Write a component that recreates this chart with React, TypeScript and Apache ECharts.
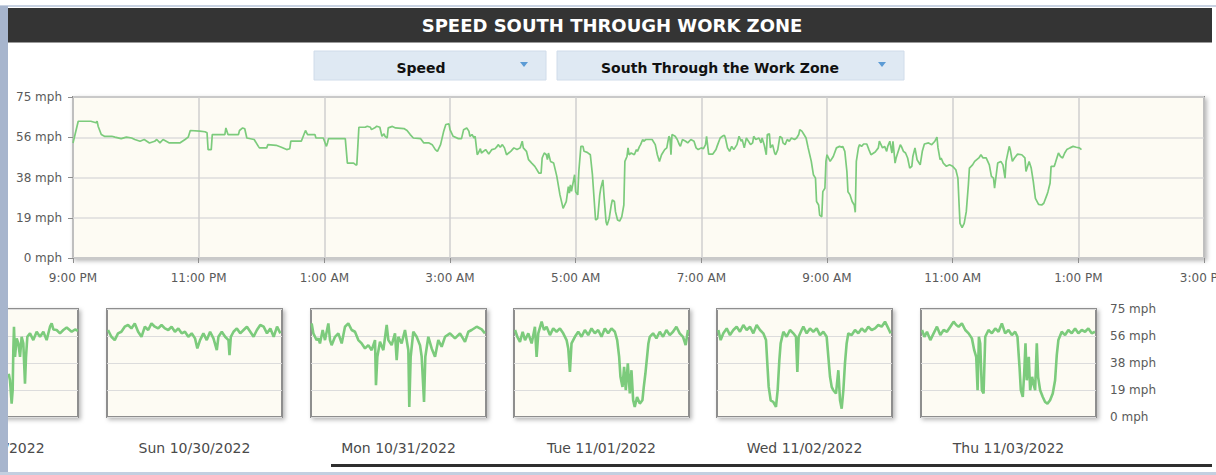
import React, { useEffect, useRef } from "react";
import * as echarts from "echarts";

// ---------- data ----------
const xTickLabels = ["9:00 PM", "11:00 PM", "1:00 AM", "3:00 AM", "5:00 AM", "7:00 AM", "9:00 AM", "11:00 AM", "1:00 PM", "3:00 PM"];
const dayLabels = ["Sat 10/29/2022", "Sun 10/30/2022", "Mon 10/31/2022", "Tue 11/01/2022", "Wed 11/02/2022", "Thu 11/03/2022"];
const titleText = "SPEED SOUTH THROUGH WORK ZONE";
const dropdownMetric = "Speed";
const dropdownDirection = "South Through the Work Zone";

// main series: [minutes after 9:00 PM, mph]
const mainSpeed: [number, number][] = [
  [0, 53.6], [5, 63.7], [17, 63.7], [22, 63.0], [23, 63.7], [24, 61.4], [27, 57.5], [30, 56.7], [37, 56.7], [40, 56.3],
  [46, 55.6], [51, 56.3], [56, 55.9], [59, 55.2], [64, 54.4], [68, 55.2], [73, 53.6], [78, 54.4], [80, 55.2], [83, 53.6],
  [86, 55.2], [89, 54.4], [92, 53.6], [102, 53.6], [107, 55.2], [110, 56.3], [112, 59.4], [121, 59.1], [126, 58.8], [128, 58.3],
  [129, 50.5], [132, 50.5], [133, 57.5], [145, 57.5], [146, 60.6], [148, 57.5], [158, 57.5], [159, 59.4], [162, 60.6], [164, 60.2],
  [166, 55.9], [173, 55.2], [177, 52.0], [178, 51.3], [185, 51.3], [186, 52.8], [194, 52.5], [199, 51.6], [204, 50.5], [207, 50.9],
  [208, 54.4], [218, 54.4], [222, 59.4], [224, 57.5], [231, 57.5], [232, 55.9], [239, 55.9], [242, 52.0], [243, 53.6], [244, 55.6],
  [260, 55.6], [262, 44.2], [268, 44.2], [270, 43.4], [271, 43.4], [273, 60.9], [279, 60.9], [281, 61.4], [284, 60.9], [285, 59.8],
  [289, 60.9], [290, 61.4], [293, 60.9], [295, 56.7], [297, 57.8], [298, 56.7], [300, 55.9], [301, 60.6], [305, 61.3], [308, 60.6],
  [316, 60.3], [319, 59.4], [322, 57.5], [325, 55.9], [332, 55.6], [335, 53.6], [340, 53.6], [343, 52.8], [346, 50.5], [348, 49.7],
  [351, 52.8], [354, 59.1], [356, 62.2], [359, 62.5], [360, 59.8], [363, 56.7], [368, 55.6], [371, 55.6], [373, 59.8], [376, 60.6],
  [378, 59.1], [379, 56.7], [381, 57.5], [383, 55.9], [384, 56.7], [386, 48.1], [387, 48.9], [389, 50.9], [390, 48.9], [394, 50.5],
  [397, 48.4], [400, 50.5], [403, 50.9], [405, 52.0], [406, 52.8], [408, 51.6], [410, 52.8], [412, 51.3], [414, 48.1], [418, 49.7],
  [421, 51.3], [424, 50.5], [427, 51.3], [429, 54.4], [430, 51.3], [433, 49.7], [435, 45.8], [438, 44.2], [441, 42.7], [445, 39.5],
  [447, 39.5], [448, 46.6], [450, 48.9], [452, 48.1], [453, 45.8], [454, 48.9], [456, 45.0], [459, 44.2], [462, 38.0], [465, 29.4],
  [468, 23.1], [471, 26.3], [473, 33.3], [474, 30.2], [475, 34.1], [476, 31.1], [479, 38.8],
  [480, 30.9], [482, 29.4], [483, 40.3], [485, 52.0], [487, 52.0], [488, 49.7], [491, 49.2], [494, 48.1], [496, 38.8], [498, 24.7],
  [499, 17.7], [501, 18.4], [503, 29.4], [504, 32.5], [506, 36.4], [507, 29.4], [509, 16.9], [510, 15.3], [512, 18.4], [514, 24.7],
  [515, 27.0], [517, 26.3], [518, 21.6], [520, 17.7], [522, 17.2], [524, 19.2], [526, 24.7], [527, 45.0], [529, 47.3], [530, 51.3],
  [531, 48.1], [533, 48.9], [536, 48.1], [538, 50.5], [539, 49.7], [541, 52.0], [542, 52.8], [544, 55.2], [545, 54.4], [547, 55.2],
  [553, 55.2], [556, 52.8], [558, 48.1], [560, 45.0], [562, 48.1], [565, 50.5], [567, 51.3], [569, 56.7], [570, 55.9], [571, 48.1],
  [572, 57.5], [575, 56.7], [577, 55.2], [579, 52.8], [580, 52.0], [582, 55.2], [585, 54.4], [587, 53.6], [590, 55.2], [593, 54.4],
  [595, 51.3], [597, 50.5], [600, 51.3], [602, 50.9], [604, 52.8], [605, 56.7], [607, 48.4], [611, 48.4], [614, 50.5], [615, 52.0],
  [618, 55.9], [620, 56.7], [622, 57.2], [623, 55.9], [625, 51.3], [627, 49.7], [629, 52.0], [631, 50.5], [634, 52.8], [636, 56.7],
  [638, 54.4], [639, 55.2], [641, 51.3], [643, 55.9], [645, 54.4], [647, 52.8], [649, 53.6], [650, 56.7], [652, 55.2], [655, 55.9],
  [657, 53.6], [658, 55.9], [660, 52.8], [662, 48.1], [663, 57.5], [665, 57.8], [666, 51.3], [668, 52.8], [670, 48.9], [671, 48.1],
  [673, 50.5], [675, 56.7], [677, 55.9], [678, 53.6], [680, 52.8], [682, 55.2], [684, 54.4], [686, 55.9], [689, 55.2], [691, 55.9],
  [693, 57.5], [694, 59.8], [696, 59.1], [698, 57.5], [700, 55.9], [702, 51.3], [705, 45.0], [707, 38.8], [709, 37.2], [710, 26.3],
  [712, 24.7], [713, 20.0], [715, 19.2], [716, 30.9], [718, 32.5], [719, 45.0], [720, 48.1],
  [723, 45.0], [726, 47.3], [729, 51.3], [732, 52.0], [734, 51.6], [735, 52.0], [737, 49.7], [739, 40.3], [740, 30.9], [742, 29.4],
  [744, 26.3], [746, 24.7], [747, 21.3], [748, 45.0], [750, 51.3], [751, 52.8], [753, 52.0], [755, 53.1], [758, 53.1], [760, 50.5],
  [762, 48.1], [766, 49.4], [769, 51.3], [770, 54.4], [773, 51.3], [775, 52.0], [777, 49.7], [778, 52.0], [780, 54.4], [782, 48.9],
  [783, 54.4], [785, 44.2], [786, 46.6], [790, 52.8], [791, 52.0], [793, 49.7], [795, 48.9], [797, 46.6], [799, 41.9], [801, 42.7],
  [802, 47.3], [804, 51.3], [806, 45.8], [809, 43.4], [811, 49.7], [813, 53.1], [817, 53.6], [820, 52.8], [823, 54.4], [825, 56.3],
  [826, 51.3], [828, 45.8], [829, 46.6], [831, 44.2], [834, 42.7], [837, 43.4], [840, 42.7], [843, 41.1], [845, 37.2], [846, 26.3],
  [847, 16.1], [849, 14.1], [851, 16.1], [853, 21.6], [855, 34.1], [856, 41.9], [859, 43.4], [861, 45.0], [863, 45.8], [865, 46.6],
  [867, 48.1], [869, 46.6], [872, 46.6], [875, 43.4], [877, 38.0], [879, 37.2], [880, 32.5], [882, 40.3], [883, 44.2], [886, 45.0],
  [888, 43.4], [890, 37.2], [891, 45.0], [894, 52.0], [895, 50.5], [897, 45.0], [899, 46.6], [902, 48.4], [906, 48.1], [909, 46.6],
  [910, 40.3], [913, 45.0], [915, 41.9], [917, 35.6], [919, 27.8], [922, 25.0], [925, 24.7], [927, 25.5], [930, 29.4], [931, 30.9],
  [933, 34.8], [934, 42.7], [937, 42.7], [938, 44.2], [941, 48.9], [943, 47.3], [945, 46.6], [947, 48.9], [949, 50.5], [952, 51.3],
  [955, 52.0], [958, 51.6], [961, 51.3], [963, 50.5],
];

// daily thumbnails: [hour of day, mph]
const satSpeed: [number, number][] = [
  [14.5, 30.0], [14.67, 25.5], [14.9, 9.3], [15.04, 18.6], [15.13, 46.4], [15.22, 62.7], [15.36, 41.8], [15.59, 54.6], [15.82, 51.1],
  [16.05, 41.8], [16.27, 55.7], [16.5, 51.1], [16.73, 23.2], [16.87, 41.8], [17.05, 55.7], [17.42, 58.1], [17.87, 53.4], [18.33, 59.2],
  [18.79, 55.7], [19.25, 59.2], [19.7, 53.4], [20.16, 62.7], [20.39, 65.0], [20.62, 60.8], [21.07, 60.4], [21.53, 58.1], [21.99, 60.4],
  [22.45, 62.2], [23.13, 59.2], [23.59, 60.8], [24.0, 59.9],
];
const sunSpeed: [number, number][] = [
  [0.14, 60.4], [0.6, 55.7], [1.06, 53.4], [1.51, 58.1], [1.97, 59.2], [2.43, 62.7], [2.89, 63.9], [3.35, 61.5], [3.81, 65.0], [4.27, 59.2],
  [4.73, 55.7], [5.19, 62.7], [5.65, 60.4], [6.1, 65.0], [6.56, 62.7], [7.02, 61.5], [7.48, 63.9], [7.94, 61.5], [8.4, 60.4], [8.86, 62.7],
  [9.32, 59.2], [9.78, 61.5], [10.24, 58.1], [10.69, 59.2], [11.15, 55.7], [11.61, 58.1], [12.07, 54.6], [12.39, 47.6], [12.76, 53.4],
  [13.22, 58.1], [13.68, 53.4], [14.14, 59.2], [14.6, 54.6], [15.06, 46.4], [15.28, 55.7], [15.74, 59.2], [16.2, 55.7], [16.66, 53.4],
  [16.8, 43.0], [16.98, 55.7], [17.35, 59.2], [17.81, 61.5], [18.27, 58.1], [18.73, 60.4], [19.19, 62.7], [19.65, 59.2], [20.1, 55.7],
  [20.56, 60.4], [21.02, 63.9], [21.48, 62.7], [21.94, 58.1], [22.4, 61.5], [22.86, 55.7], [23.32, 62.7], [23.78, 58.1],
];
const monSpeed: [number, number][] = [
  [0.09, 65.0], [0.32, 58.1], [0.55, 55.7], [0.78, 53.4], [1.01, 54.6], [1.23, 51.1], [1.6, 60.4], [1.92, 53.4], [2.38, 65.0], [2.61, 53.4],
  [2.83, 49.9], [3.29, 55.7], [3.75, 58.1], [4.21, 51.1], [4.66, 62.7], [5.12, 65.0], [5.58, 60.4], [6.03, 59.2], [6.49, 53.4], [6.95, 51.1],
  [7.41, 47.6], [7.86, 49.9], [8.32, 46.4], [8.78, 53.4], [8.91, 22.1], [9.1, 41.8], [9.46, 52.2], [9.92, 46.4], [10.38, 63.9], [10.61, 53.4],
  [11.06, 49.9], [11.52, 58.1], [11.75, 39.5], [11.98, 55.7], [12.43, 51.1], [12.89, 60.4], [13.35, 46.4], [13.48, 7.0], [13.67, 41.8],
  [14.03, 59.2], [14.49, 55.7], [14.95, 49.9], [15.18, 41.8], [15.5, 10.4], [15.68, 41.8], [16.09, 55.7], [16.55, 47.6], [17.01, 41.8],
  [17.46, 53.4], [17.92, 48.8], [18.38, 55.7], [19.06, 58.1], [19.75, 54.6], [20.43, 58.1], [21.12, 52.2], [21.58, 59.2], [22.03, 60.4],
  [22.72, 62.7], [23.41, 60.8], [23.86, 58.1],
];
const tueSpeed: [number, number][] = [
  [0.14, 60.4], [0.46, 55.7], [0.82, 52.2], [1.19, 59.2], [1.51, 53.4], [1.96, 58.1], [2.42, 51.1], [2.87, 62.7], [3.1, 41.8], [3.33, 58.1],
  [3.79, 66.2], [4.11, 60.4], [4.47, 62.7], [4.93, 56.9], [5.38, 61.5], [5.84, 59.2], [6.3, 61.5], [6.75, 58.1], [7.21, 53.4], [7.44, 47.6],
  [7.67, 31.3], [7.89, 51.1], [8.35, 55.7], [8.81, 59.2], [9.26, 55.7], [9.72, 60.4], [10.18, 56.9], [10.63, 61.5], [11.09, 58.1], [11.54, 60.4],
  [12.0, 55.7], [12.46, 61.5], [12.91, 58.1], [13.37, 61.5], [13.83, 59.2], [14.15, 53.4], [14.42, 41.8], [14.6, 27.9], [14.88, 20.9],
  [15.1, 34.8], [15.33, 18.6], [15.61, 37.2], [15.88, 16.3], [16.11, 32.5], [16.34, 11.6], [16.56, 7.0], [16.88, 13.9], [17.25, 9.3],
  [17.61, 11.6], [17.8, 20.9], [18.02, 30.2], [18.25, 41.8], [18.43, 51.1], [18.62, 55.7], [19.07, 58.1], [19.53, 54.6], [19.99, 59.2],
  [20.44, 55.7], [20.9, 60.4], [21.36, 56.9], [21.81, 59.2], [22.27, 62.7], [22.72, 58.1], [23.18, 55.7], [23.54, 49.9], [23.86, 60.4],
];
const wedSpeed: [number, number][] = [
  [0.18, 60.4], [0.5, 53.4], [0.87, 58.1], [1.33, 61.5], [1.78, 56.9], [2.24, 60.4], [2.7, 62.7], [3.15, 59.2], [3.61, 63.9], [4.07, 60.4],
  [4.53, 62.7], [4.98, 58.1], [5.44, 63.9], [5.9, 60.4], [6.35, 58.1], [6.72, 53.4], [6.9, 37.2], [7.09, 20.9], [7.36, 11.6], [7.73, 10.4],
  [8.09, 7.0], [8.32, 18.6], [8.55, 39.5], [8.73, 51.1], [9.1, 59.2], [9.55, 55.7], [10.01, 60.4], [10.47, 58.1], [10.83, 55.7], [11.02, 31.3],
  [11.2, 55.7], [11.61, 60.4], [11.84, 62.7], [12.3, 58.1], [12.75, 61.5], [13.21, 59.2], [13.67, 61.5], [14.13, 56.9], [14.58, 59.2],
  [15.04, 55.7], [15.27, 41.8], [15.5, 27.9], [15.73, 20.9], [15.95, 18.6], [16.32, 16.3], [16.64, 32.5], [16.87, 11.6], [17.1, 5.8],
  [17.33, 18.6], [17.55, 37.2], [17.78, 51.1], [18.01, 58.1], [18.47, 56.9], [18.93, 60.4], [19.38, 58.1], [19.84, 61.5], [20.3, 59.2],
  [20.75, 62.7], [21.21, 60.4], [21.67, 61.5], [22.12, 63.9], [22.58, 62.7], [23.04, 66.2], [23.5, 61.5], [23.82, 58.1],
];
const thuSpeed: [number, number][] = [
  [0.14, 60.4], [0.46, 55.7], [0.82, 59.2], [1.28, 53.4], [1.73, 58.1], [2.19, 62.7], [2.65, 56.9], [3.1, 60.4], [3.56, 59.2], [4.02, 62.7],
  [4.47, 66.2], [4.84, 63.9], [5.16, 62.7], [5.61, 65.0], [6.07, 60.4], [6.53, 58.1], [6.98, 54.6], [7.3, 46.4], [7.57, 41.8], [7.76, 18.6],
  [7.94, 55.7], [8.12, 51.1], [8.35, 18.6], [8.58, 16.3], [8.81, 55.7], [9.26, 60.4], [9.72, 58.1], [10.18, 61.5], [10.63, 59.2], [11.09, 65.0],
  [11.54, 58.1], [12.0, 60.4], [12.46, 56.9], [12.91, 59.2], [13.23, 55.7], [13.51, 34.8], [13.69, 18.6], [13.96, 13.9], [14.15, 30.2],
  [14.33, 51.1], [14.51, 25.5], [14.78, 41.8], [14.97, 18.6], [15.24, 27.9], [15.42, 23.2], [15.65, 18.6], [15.88, 51.1], [16.06, 27.9],
  [16.34, 18.6], [16.7, 13.9], [17.02, 10.4], [17.34, 9.3], [17.7, 11.6], [18.07, 16.3], [18.39, 25.5], [18.62, 43.0], [18.84, 53.4],
  [19.3, 59.2], [19.76, 56.9], [20.21, 60.4], [20.67, 58.1], [21.13, 61.5], [21.58, 58.1], [22.04, 60.4], [22.5, 59.2], [22.95, 61.5],
  [23.41, 58.1], [23.86, 59.2],
];
const dailySpeeds = [satSpeed, sunSpeed, monSpeed, tueSpeed, wedSpeed, thuSpeed];

// ---------- styles ----------
const FONT = "DejaVu Sans";
const LINE = "#7ccb7c";
const PLOT_BG = "#fdfbf3";
const BORDER = "#8e8e8e";
const SPLIT = "#dcdcdc";
const LABEL = "#5a5a5a";

const mphLabel = (v: number) => `${Math.round(v)} mph`;

export default function App() {
  const ref = useRef<HTMLDivElement>(null);

  useEffect(() => {
    if (!ref.current) return;
    const chart = echarts.init(ref.current, undefined, { renderer: "svg" });

    const panelLefts = [-97, 107, 311, 514, 717, 921];
    const shadow = { shadowColor: "rgba(0,0,0,0.28)", shadowBlur: 4, shadowOffsetX: 2, shadowOffsetY: 2 };

    const grids: any[] = [
      { left: 73, top: 97, width: 1131, height: 161, show: true, outerBoundsMode: "none", containLabel: false, backgroundColor: PLOT_BG, borderColor: BORDER, borderWidth: 2, ...shadow },
      ...panelLefts.map((l) => ({ left: l, top: 309, width: 175, height: 108, show: true, outerBoundsMode: "none", containLabel: false, backgroundColor: PLOT_BG, borderColor: BORDER, borderWidth: 2, ...shadow })),
    ];

    const xAxes: any[] = [
      {
        gridIndex: 0, type: "value", min: 0, max: 1080, interval: 120,
        axisLine: { show: false },
        axisTick: { show: true, length: 5, lineStyle: { color: BORDER, width: 1 } },
        axisLabel: { formatter: (v: number) => xTickLabels[Math.round(v / 120)] ?? "", color: LABEL, fontFamily: FONT, fontSize: 12, margin: 14, hideOverlap: false },
        splitLine: { show: true, lineStyle: { color: "#cfcfcf", width: 1.5 } },
      },
      ...dayLabels.map((name, i) => ({
        gridIndex: i + 1, type: "value", min: 0, max: 24,
        axisLine: { show: false }, axisTick: { show: false }, axisLabel: { show: false }, splitLine: { show: false },
        name, nameLocation: "middle", nameGap: 24,
        nameTextStyle: { color: "#4a4a4a", fontFamily: FONT, fontSize: 14 },
      })),
    ];

    const yAxes: any[] = [
      {
        gridIndex: 0, type: "value", min: 0, max: 75, interval: 18.75,
        axisLine: { show: false },
        axisTick: { show: true, length: 5, lineStyle: { color: BORDER, width: 1 } },
        axisLabel: { formatter: mphLabel, color: LABEL, fontFamily: FONT, fontSize: 12, margin: 11 },
        splitLine: { show: true, lineStyle: { color: SPLIT, width: 1.5 } },
      },
      ...dayLabels.map((_, i) => ({
        gridIndex: i + 1, type: "value", min: 0, max: 75, interval: 18.75,
        position: "right",
        axisLine: { show: false }, axisTick: { show: false },
        axisLabel: { show: i === dayLabels.length - 1, formatter: mphLabel, color: LABEL, fontFamily: FONT, fontSize: 12, margin: 14 },
        splitLine: { show: true, lineStyle: { color: SPLIT, width: 1.2 } },
      })),
    ];

    const series: any[] = [
      { type: "line", xAxisIndex: 0, yAxisIndex: 0, data: mainSpeed, showSymbol: false, symbol: "none", lineStyle: { color: LINE, width: 1.7 }, silent: true },
      ...dailySpeeds.map((d, i) => ({
        type: "line", xAxisIndex: i + 1, yAxisIndex: i + 1, data: d, showSymbol: false, symbol: "none",
        lineStyle: { color: LINE, width: 2.6 }, silent: true, clip: true,
      })),
    ];

    const graphic: any[] = [
      { type: "rect", z: 100, shape: { x: 0, y: 5, width: 1216, height: 2 }, style: { fill: "#c8d2e2" } },
      { type: "rect", z: 100, shape: { x: 0, y: 6, width: 8, height: 469 }, style: { fill: "#a7b5cd" } },
      { type: "rect", z: 100, shape: { x: 8, y: 8, width: 1204, height: 34 }, style: { fill: "#343434" } },
      { type: "rect", z: 100, shape: { x: 8, y: 42, width: 1204, height: 1 }, style: { fill: "#9a9a9a" } },
      { type: "text", z: 101, x: 612, y: 25, style: { text: titleText, fill: "#ffffff", font: `bold 18px "${FONT}"`, textAlign: "center", textVerticalAlign: "middle" } },
      { type: "rect", z: 100, shape: { x: 314, y: 51, width: 232, height: 29 }, style: { fill: "#dfe9f3", stroke: "#d0dcea", lineWidth: 1 } },
      { type: "text", z: 101, x: 421, y: 68, style: { text: dropdownMetric, fill: "#111", font: `bold 14px "${FONT}"`, textAlign: "center", textVerticalAlign: "middle" } },
      { type: "polygon", z: 101, shape: { points: [[520, 62], [528, 62], [524, 67]] }, style: { fill: "#5b9bd5" } },
      { type: "rect", z: 100, shape: { x: 557, y: 51, width: 347, height: 29 }, style: { fill: "#dfe9f3", stroke: "#d0dcea", lineWidth: 1 } },
      { type: "text", z: 101, x: 720, y: 68, style: { text: dropdownDirection, fill: "#111", font: `bold 14px "${FONT}"`, textAlign: "center", textVerticalAlign: "middle" } },
      { type: "polygon", z: 101, shape: { points: [[878, 62], [886, 62], [882, 67]] }, style: { fill: "#5b9bd5" } },
      { type: "rect", z: 100, shape: { x: 331, y: 464, width: 881, height: 3 }, style: { fill: "#2e2e2e" } },
      { type: "rect", z: 100, shape: { x: 0, y: 472, width: 1216, height: 3 }, style: { fill: "#c3cfe0" } },
    ];

    chart.setOption({
      animation: false,
      backgroundColor: "#ffffff",
      grid: grids,
      xAxis: xAxes,
      yAxis: yAxes,
      series,
      graphic,
    });

    return () => chart.dispose();
  }, []);

  return <div ref={ref} style={{ position: "absolute", left: 0, top: 0, width: 1216, height: 475 }} />;
}
